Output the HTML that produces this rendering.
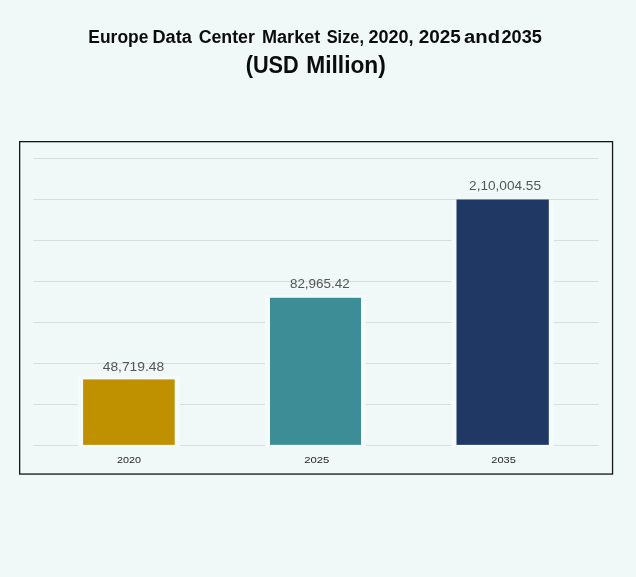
<!DOCTYPE html>
<html><head><meta charset="utf-8">
<title>Europe Data Center Market Size</title>
<style>
html,body{margin:0;padding:0;}
body{width:636px;height:577px;background:#f0f9f8;position:relative;overflow:hidden;font-family:"Liberation Sans",sans-serif;}
span{position:absolute;left:0;top:0;display:block;transform-origin:0 0;white-space:nowrap;line-height:30px;}
.w1{font-size:18.3px;font-weight:bold;color:#0c0c0c;}
.w2{font-size:23px;font-weight:bold;color:#0c0c0c;}
.v{font-size:13.5px;color:#555;}
.x{font-size:9.9px;color:#262626;}
svg{position:absolute;left:0;top:0;}
</style></head><body>
<svg width="636" height="577" viewBox="0 0 636 577">
<rect x="19.65" y="141.65" width="592.9" height="332.4" fill="none" stroke="#151515" stroke-width="1.3"/>
<g fill="#d6dede">
<rect x="33.5" y="158" width="565" height="1"/>
<rect x="33.5" y="199" width="565" height="1"/>
<rect x="33.5" y="240" width="565" height="1"/>
<rect x="33.5" y="281" width="565" height="1"/>
<rect x="33.5" y="322" width="565" height="1"/>
<rect x="33.5" y="363" width="565" height="1"/>
<rect x="33.5" y="404" width="565" height="1"/>
<rect x="33.5" y="445" width="565" height="1"/>
</g>
<g fill="#f4fbfa">
<rect x="78" y="376.5" width="101.8" height="70.5"/>
<rect x="265" y="295" width="101" height="152"/>
<rect x="451.5" y="200.5" width="102.3" height="246.5"/>
</g>
<rect x="83.1" y="379.4" width="91.6" height="65.45" fill="#bf9000"/>
<rect x="270" y="297.8" width="91" height="147.05" fill="#3c8d96"/>
<rect x="456.5" y="199.5" width="92.3" height="245.35" fill="#203864"/>
</svg>
<span class="w1" style="transform:translate(88.35px,21.70px) scaleX(0.9525)">Europe</span>
<span class="w1" style="transform:translate(152.51px,21.70px) scaleX(0.9923)">Data</span>
<span class="w1" style="transform:translate(198.63px,21.70px) scaleX(0.9702)">Center</span>
<span class="w1" style="transform:translate(262.01px,21.70px) scaleX(0.9879)">Market</span>
<span class="w1" style="transform:translate(326.71px,21.70px) scaleX(0.8949)">Size,</span>
<span class="w1" style="transform:translate(368.41px,21.70px) scaleX(0.9864)">2020,</span>
<span class="w1" style="transform:translate(418.67px,21.70px) scaleX(1.0333)">2025</span>
<span class="w1" style="transform:translate(464.09px,21.70px) scaleX(1.1067)">and</span>
<span class="w1" style="transform:translate(501.51px,21.70px) scaleX(0.9923)">2035</span>
<span class="w2" style="transform:translate(245.66px,49.60px) scaleX(0.9444)">(USD</span>
<span class="w2" style="transform:translate(306.21px,49.60px) scaleX(0.9897)">Million)</span>
<span class="v" style="transform:translate(102.70px,351.60px) scaleX(1.0237)">48,719.48</span>
<span class="v" style="transform:translate(289.91px,269.00px) scaleX(0.9948)">82,965.42</span>
<span class="v" style="transform:translate(469.09px,171.20px) scaleX(1.0086)">2,10,004.55</span>
<span class="x" style="transform:translate(116.90px,444.90px) scaleX(1.0952)">2020</span>
<span class="x" style="transform:translate(304.25px,444.90px) scaleX(1.1450)">2025</span>
<span class="x" style="transform:translate(491.28px,444.90px) scaleX(1.1150)">2035</span>
</body></html>
